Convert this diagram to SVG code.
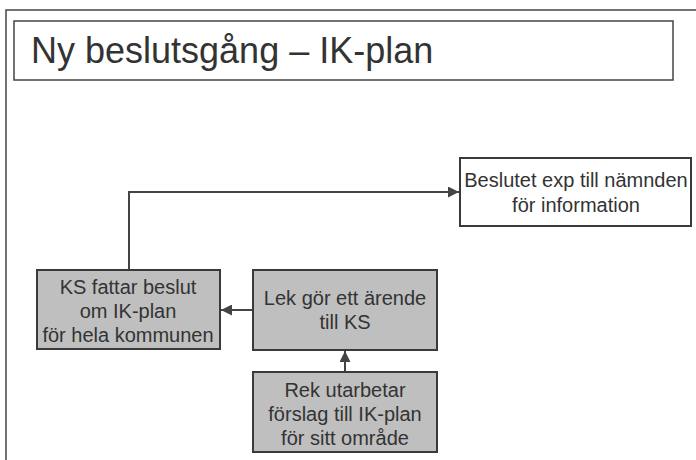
<svg xmlns="http://www.w3.org/2000/svg" width="696" height="460" viewBox="0 0 696 460">
<style>
.frame{fill:none;stroke:#444;stroke-width:1.5}
.box{stroke:#3a3a3a;stroke-width:2}
.gray{fill:#bfbfbf}
.white{fill:#fff}
.t{font-family:"Liberation Sans",Arial,sans-serif;font-size:20px;fill:#333;text-anchor:middle}
.title{font-family:"Liberation Sans",Arial,sans-serif;font-size:36px;fill:#333}
.conn{fill:none;stroke:#444;stroke-width:2}
</style>
<defs>
<marker id="arr" viewBox="0 0 10 10" refX="10" refY="5" markerWidth="5.5" markerHeight="5.5" orient="auto" markerUnits="strokeWidth">
<path d="M0,0 L10,5 L0,10 z" fill="#444"/>
</marker>
</defs>
<rect width="696" height="460" fill="#fff"/>
<path class="frame" d="M6,460 V10 H696"/>
<g id="title">
<rect x="14" y="21" width="659" height="59" fill="#fff" stroke="#444" stroke-width="1.5"/>
<text class="title" x="31" y="63">Ny beslutsgång – IK-plan</text>
</g>
<g id="connectors">
<path class="conn" d="M129,270 V192 H459" marker-end="url(#arr)"/>
<path class="conn" d="M253,310 H221" marker-end="url(#arr)"/>
<path class="conn" d="M345,372 V351" marker-end="url(#arr)"/>
</g>
<g id="beslutet">
<rect class="box white" x="460" y="158" width="231" height="68"/>
<text class="t" x="576" y="187">Beslutet exp till nämnden</text>
<text class="t" x="576" y="212">för information</text>
</g>
<g id="ks">
<rect class="box gray" x="37" y="270" width="183" height="79"/>
<text class="t" x="128" y="294">KS fattar beslut</text>
<text class="t" x="128" y="318">om IK-plan</text>
<text class="t" x="128" y="342">för hela kommunen</text>
</g>
<g id="lek">
<rect class="box gray" x="253" y="270" width="184" height="80"/>
<text class="t" x="345" y="305">Lek gör ett ärende</text>
<text class="t" x="345" y="329">till KS</text>
</g>
<g id="rek">
<rect class="box gray" x="253" y="372" width="184" height="80"/>
<text class="t" x="345" y="397">Rek utarbetar</text>
<text class="t" x="345" y="421">förslag till IK-plan</text>
<text class="t" x="345" y="445">för sitt område</text>
</g>
</svg>
